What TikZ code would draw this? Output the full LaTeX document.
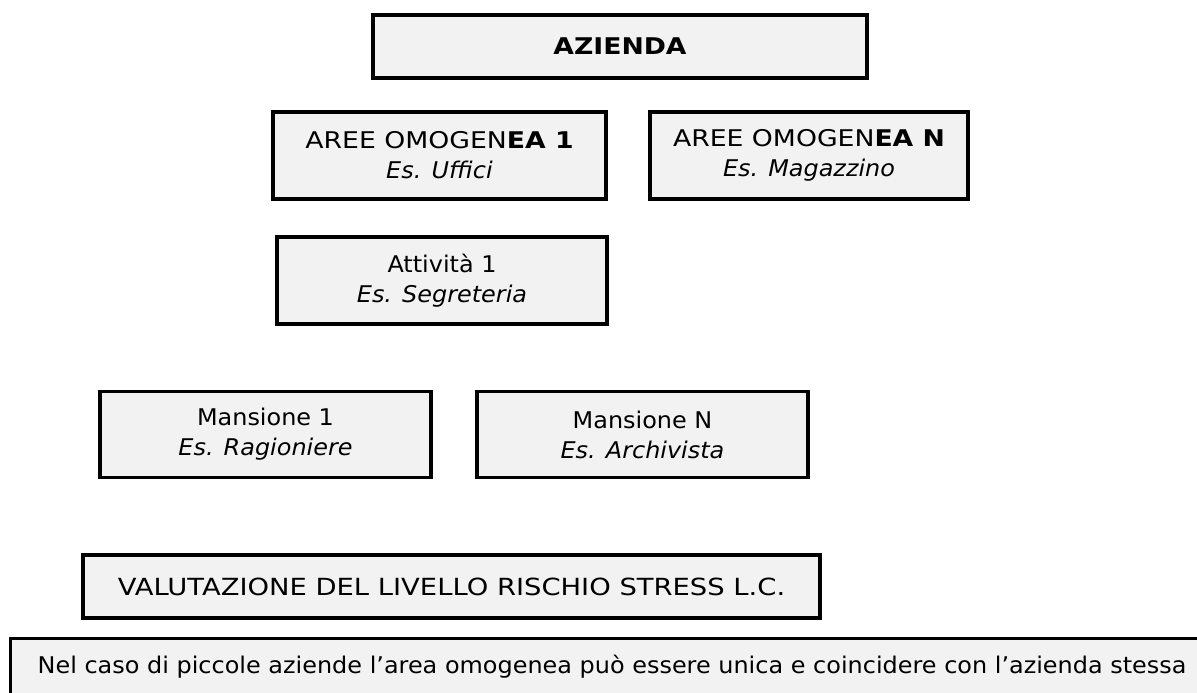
\documentclass[tikz,border=0pt]{standalone}
\usepackage{fontspec}
\setmainfont[FakeStretch=1.04]{DejaVu Sans}
\newfontfamily\capsfont[FakeStretch=1.16]{DejaVu Sans}
\usetikzlibrary{positioning}

\definecolor{boxgray}{HTML}{F2F2F2}

\tikzset{
  box/.style={draw=black, line width=3.3pt, fill=boxgray, align=center,
    inner sep=0pt, font=\fontsize{23}{30}\selectfont},
}

\begin{document}
\begin{tikzpicture}[x=1pt,y=-1pt]
      \useasboundingbox (0,0) rectangle (1197,693);
      \clip (0,0) rectangle (1197,693);
      \fill[white] (0,0) rectangle (1197,693);

      % top level
      \node[box, minimum width=494, minimum height=63] (azienda) at (620,46.5) {\capsfont\textbf{AZIENDA}};

      % aree omogenee
      \node[box, minimum width=333, minimum height=87] (area1) at (439.5,155.5)
        {{\capsfont AREE OMOGEN\textbf{EA 1}}\\ \textit{Es. Uffici}};
      \node[box, minimum width=318, minimum height=87] (areaN) at (809,155.5)
        {{\capsfont AREE OMOGEN\textbf{EA N}}\\ \textit{Es. Magazzino}};

      % attivita
      \node[box, minimum width=330, minimum height=87] (attiv1) at (442,280.5)
        {Attività 1\\ \textit{Es. Segreteria}};

      % mansioni
      \node[box, minimum width=331, minimum height=86] (mans1) at (265.5,434.5)
        {Mansione 1\\ \textit{Es. Ragioniere}};
      \node[box, minimum width=331, minimum height=86] (mansN) at (642.5,434.5)
        {Mansione N\\ \textit{Es. Archivista}};

      % valutazione
      \node[box, font=\fontsize{23.6}{30}\selectfont, minimum width=737, minimum height=63] (valut) at (451.5,586.5)
        {\capsfont VALUTAZIONE DEL LIVELLO RISCHIO STRESS L.C.};

      % nota in fondo
      \node[box, anchor=north west, text width=1190, align=left, inner xsep=27pt,
        text height=35, text depth=40] (nota) at (9,637)
        {Nel caso di piccole aziende l’area omogenea può essere unica e coincidere con l’azienda stessa};
    \end{tikzpicture}
\end{document}
